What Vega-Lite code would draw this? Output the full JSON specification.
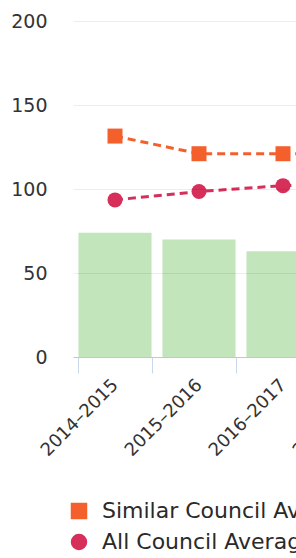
{
  "$schema": "https://vega.github.io/schema/vega-lite/v6.json",
  "width": 336,
  "height": 336,
  "autosize": "none",
  "padding": {"left": 73, "top": 21, "right": 0, "bottom": 201},
  "background": "white",
  "config": {
    "view": {"stroke": null},
    "font": "DejaVu Sans"
  },
  "datasets": {
    "bars": [
      {"year": "2014–2015", "value": 74},
      {"year": "2015–2016", "value": 70},
      {"year": "2016–2017", "value": 63},
      {"year": "2017–2018", "value": 60}
    ],
    "lines": [
      {"year": "2014–2015", "series": "Similar Council Average", "value": 131.5},
      {"year": "2015–2016", "series": "Similar Council Average", "value": 121},
      {"year": "2016–2017", "series": "Similar Council Average", "value": 121},
      {"year": "2017–2018", "series": "Similar Council Average", "value": 121},
      {"year": "2014–2015", "series": "All Council Average", "value": 93.5},
      {"year": "2015–2016", "series": "All Council Average", "value": 98.5},
      {"year": "2016–2017", "series": "All Council Average", "value": 102},
      {"year": "2017–2018", "series": "All Council Average", "value": 103}
    ]
  },
  "encoding": {
    "x": {
      "field": "year",
      "type": "nominal",
      "sort": null,
      "scale": {"paddingInner": 0.13, "paddingOuter": 0.065},
      "axis": {
        "title": null,
        "labelAngle": -45,
        "labelAlign": "right",
        "labelBaseline": "middle",
        "labelFontSize": 18,
        "labelColor": "#333333",
        "labelPadding": 9,
        "labelDx": 5,
        "tickBand": "extent",
        "tickColor": "#ccd6eb",
        "tickSize": 16,
        "domainColor": "#ccd6eb",
        "domainWidth": 1,
        "grid": false
      }
    }
  },
  "layer": [
    {
      "data": {"name": "bars"},
      "mark": {"type": "bar", "color": "#c2e5bc"},
      "encoding": {
        "y": {
          "field": "value",
          "type": "quantitative",
          "scale": {"domain": [0, 200], "nice": false},
          "axis": {
            "title": null,
            "values": [0, 50, 100, 150, 200],
            "domain": false,
            "ticks": false,
            "labelFontSize": 19,
            "labelColor": "#333333",
            "labelPadding": 26,
            "grid": true,
            "gridColor": "#000000",
            "gridOpacity": 0.07,
            "zindex": 1
          }
        }
      }
    },
    {
      "data": {"name": "lines"},
      "mark": {"type": "line", "strokeWidth": 3, "strokeDash": [8, 5]},
      "encoding": {
        "y": {"field": "value", "type": "quantitative"},
        "color": {
          "field": "series",
          "type": "nominal",
          "sort": null,
          "scale": {"domain": ["Similar Council Average", "All Council Average"], "range": ["#f4602c", "#d62f5a"]}
        },
        "detail": {"field": "series"}
      }
    },
    {
      "data": {"name": "lines"},
      "mark": {"type": "point", "filled": true, "opacity": 1, "size": 225},
      "encoding": {
        "y": {"field": "value", "type": "quantitative"},
        "color": {
          "field": "series",
          "type": "nominal",
          "sort": null,
          "legend": {
            "title": null,
            "orient": "none",
            "legendX": -5,
            "legendY": 479,
            "direction": "vertical",
            "labelFontSize": 22,
            "labelColor": "#2a2a2a",
            "symbolSize": 225,
            "rowPadding": 9,
            "labelOffset": 12,
            "labelLimit": 0
          }
        },
        "shape": {
          "field": "series",
          "type": "nominal",
          "sort": null,
          "scale": {"domain": ["Similar Council Average", "All Council Average"], "range": ["square", "circle"]}
        }
      }
    }
  ]
}
